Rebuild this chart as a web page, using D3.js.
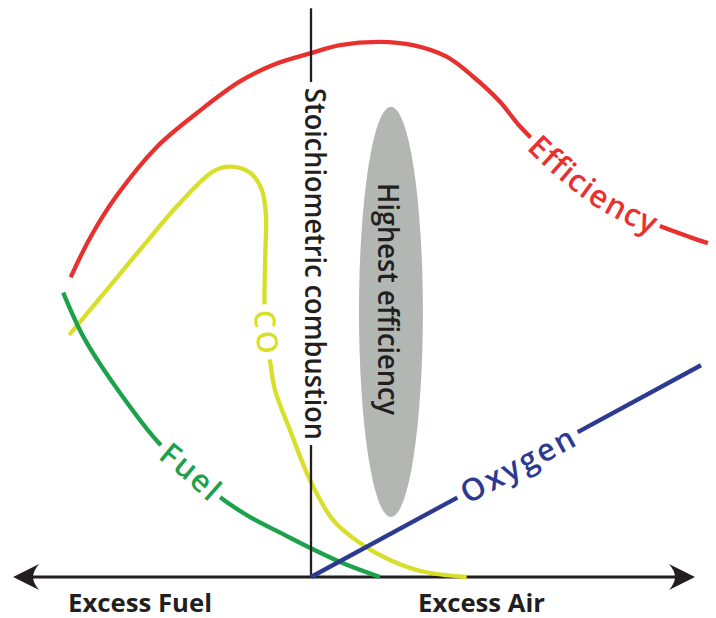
<!DOCTYPE html>
<html><head><meta charset="utf-8">
<script src="https://cdn.jsdelivr.net/npm/d3@7"></script>
<style>
html,body{margin:0;padding:0;background:#fff;}
svg{display:block;}
</style></head>
<body>
<svg id="chart" width="716" height="618"></svg>
<script>
// ---- Data (conceptual units: x = fuel/air balance, 0 = stoichiometric; y = relative level) ----
const efficiencyX = [-8.01,-7.37,-6.48,-5.14,-3.77,-2.37,-1.27,-0.03,0.97,2.3,3.4,4.52,5.4,6.3,6.97,8.3,9.47,10.63,11.63,12.63,13.23];
const efficiencyY = [54.5,61.6,69.3,78.2,84.5,90.1,93.1,95.2,96.7,97.3,96.7,94.6,91.0,86.4,81.9,74.9,69.8,66.2,63.8,61.8,60.7];
const coX = [-8.06,-6.81,-5.7,-4.37,-3.27,-2.7,-2.03,-1.64,-1.5,-1.52,-1.55,-1.5,-1.37,-1.2,-0.7,-0.03,0.73,1.63,2.63,3.73,5.19];
const coY = [44.0,52.2,59.5,68.0,73.7,74.6,73.5,70.4,65.5,59.5,49.8,44.9,39.5,34.0,26.7,17.6,10.4,6.2,3.1,1.0,0];
const fuelX = [-8.26,-7.59,-6.63,-5.01,-4.03,-3.03,-2.03,-0.93,-0.03,1.07,2.3];
const fuelY = [51.7,43.7,35.5,24.0,19.5,14.5,10.9,7.8,5.3,2.5,0];
const oxygenX = [0,13];
const oxygenY = [0,38.5];
const stoichX = 0, stoichTop = 103.4;
const zoneX = [1.6,3.73], zoneY = [10.9,85.5];
const axisExtent = [-9.93,12.8];
const axisLabels = ["Excess Fuel","Excess Air"];
const stoichLabel = "Stoichiometric combustion";
const zoneLabel = "Highest efficiency";

// ---- Layout ----
const svg = d3.select("#chart");
const x = d3.scaleLinear().domain([-10,13]).range([11,701]);
const y = d3.scaleLinear().domain([0,100]).range([577,27]);
const line = d3.line().x(d=>x(d[0])).y(d=>y(d[1])).curve(d3.curveCatmullRom.alpha(0.5));
const zip = (a,b)=>a.map((v,i)=>[v,b[i]]);

const C = {red:"#e7312f", yellow:"#d8df2a", green:"#1ca24b", blue:"#2c3a92", ink:"#231f20", zone:"#b3b7b4"};
const FONT = "'Open Sans', 'Noto Sans', sans-serif";

// highest efficiency zone
const zcx = (x(zoneX[0])+x(zoneX[1]))/2, zcy = (y(zoneY[0])+y(zoneY[1]))/2;
svg.append("ellipse").attr("cx",zcx).attr("cy",zcy)
  .attr("rx",(x(zoneX[1])-x(zoneX[0]))/2).attr("ry",(y(zoneY[0])-y(zoneY[1]))/2)
  .attr("fill",C.zone);
svg.append("text").attr("transform",`translate(378,183) rotate(90)`)
  .attr("font-family",FONT).attr("font-weight",600).attr("font-size",28)
  .attr("fill",C.ink).attr("textLength",232).attr("lengthAdjust","spacingAndGlyphs")
  .text(zoneLabel);

// horizontal axis
svg.append("line").attr("x1",x(axisExtent[0])+10).attr("x2",x(axisExtent[1])-10)
  .attr("y1",y(0)).attr("y2",y(0)).attr("stroke",C.ink).attr("stroke-width",3);

// curves
const curves = [
  {id:"eff", pts:zip(efficiencyX,efficiencyY), color:C.red, label:"Efficiency", size:31, gap:[[7.36,80.2],[11.63,63.8]]},
  {id:"co", pts:zip(coX,coY), color:C.yellow, label:"CO", size:29, gap:[[-1.55,49.6],[-1.38,39.6]]},
  {id:"fuel", pts:zip(fuelX,fuelY), color:C.green, label:"Fuel", size:31, gap:[[-5.01,24.0],[-3.03,14.5]]},
];
const blue = {id:"oxy", pts:zip(oxygenX,oxygenY), color:C.blue, label:"Oxygen", size:31, gap:[[4.86,14.6],[8.86,26.7]]};

function nearestLength(node, px, py){
  const total=node.getTotalLength(); let best=0, bd=Infinity;
  for(let l=0;l<=total;l+=0.5){const p=node.getPointAtLength(l); const d=(p.x-px)**2+(p.y-py)**2; if(d<bd){bd=d;best=l;}}
  return best;
}
function drawCurve(c){
  const p = svg.append("path").attr("id",c.id).attr("d",line(c.pts))
    .attr("fill","none").attr("stroke",c.color).attr("stroke-width",4.3);
  const node=p.node(), total=node.getTotalLength();
  const a=nearestLength(node,x(c.gap[0][0]),y(c.gap[0][1]));
  const b=nearestLength(node,x(c.gap[1][0]),y(c.gap[1][1]));
  p.attr("stroke-dasharray",`${a} ${b-a} ${total}`);
  c._gap=[a,b];
}
function drawLabel(c){
  const [a,b]=c._gap, pad=4, target=b-a-2*pad;
  const t = svg.append("text").attr("font-family",FONT).attr("font-weight",600)
    .attr("font-size",c.size).attr("fill",c.color).attr("dy","0.36em");
  const tp = t.append("textPath").attr("href","#"+c.id).attr("text-anchor","middle")
    .attr("startOffset",(a+b)/2).text(c.label);
  const nat = t.node().getComputedTextLength();
  const ls = Math.max(-1.5, Math.min(2.5, (target-nat)/c.label.length));
  tp.attr("letter-spacing",ls).attr("startOffset",(a+b)/2+ls/2);
}
curves.forEach(drawCurve);

// stoichiometric line
const sx=x(stoichX);
svg.append("line").attr("x1",sx).attr("x2",sx).attr("y1",y(stoichTop)).attr("y2",82)
  .attr("stroke",C.ink).attr("stroke-width",2.3);
svg.append("line").attr("x1",sx).attr("x2",sx).attr("y1",445).attr("y2",y(0))
  .attr("stroke",C.ink).attr("stroke-width",2.3);
svg.append("text").attr("transform",`translate(305,88) rotate(90)`)
  .attr("font-family",FONT).attr("font-weight",600).attr("font-size",28)
  .attr("fill",C.ink).attr("textLength",352).attr("lengthAdjust","spacingAndGlyphs")
  .text(stoichLabel);

drawCurve(blue);
curves.concat([blue]).forEach(drawLabel);

// arrowheads
const head = "M0,0 L-26,-13 Q-20,-6 -20,0 Q-20,6 -26,13 Z";
svg.append("path").attr("d",head).attr("fill",C.ink)
  .attr("transform",`translate(${x(axisExtent[1])},${y(0)})`);
svg.append("path").attr("d",head).attr("fill",C.ink)
  .attr("transform",`translate(${x(axisExtent[0])},${y(0)}) rotate(180)`);

// axis labels
svg.append("text").attr("x",68).attr("y",612).attr("font-family",FONT).attr("font-weight",700)
  .attr("font-size",25).attr("fill",C.ink).attr("textLength",144).attr("lengthAdjust","spacingAndGlyphs")
  .text(axisLabels[0]);
svg.append("text").attr("x",418).attr("y",612).attr("font-family",FONT).attr("font-weight",700)
  .attr("font-size",25).attr("fill",C.ink).attr("textLength",127).attr("lengthAdjust","spacingAndGlyphs")
  .text(axisLabels[1]);
</script>
</body></html>
